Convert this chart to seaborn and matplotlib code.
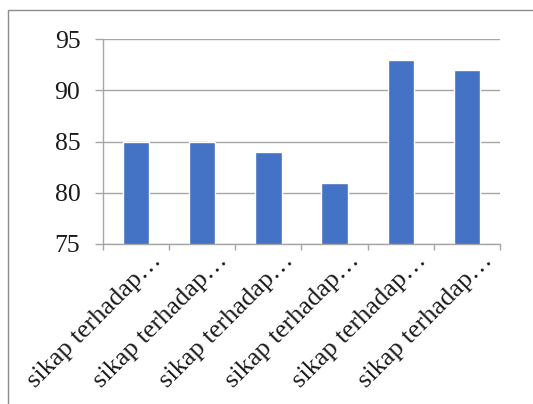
import matplotlib
matplotlib.use("Agg")
import matplotlib.pyplot as plt
import matplotlib.patches as mpatches
import matplotlib.transforms as mtransforms
import seaborn as sns
import pandas as pd

categories = ["sikap terhadap 1", "sikap terhadap 2", "sikap terhadap 3",
              "sikap terhadap 4", "sikap terhadap 5", "sikap terhadap 6"]
tick_labels = ["sikap terhadap\u2026"] * 6
values = [85, 85, 84, 81, 93, 92]
y_ticks = [75, 80, 85, 90, 95]

sns.set_theme(style="white")
plt.rcParams["font.family"] = ["Liberation Serif", "DejaVu Serif"]

df = pd.DataFrame({"category": categories, "value": values})

fig = plt.figure(figsize=(5.33, 4.04), dpi=100)
ax = fig.add_axes([103 / 533, 1 - 244 / 404, 397 / 533, 205 / 404])

sns.barplot(data=df, x="category", y="value", color="#4472C4",
            width=0.4, saturation=1, ax=ax, zorder=3)

grid_c = "#A6A6A6"
text_c = "#1a1a1a"
ax.set_ylim(75, 95)
ax.set_xlim(-0.5, len(categories) - 0.5)
ax.set_yticks(y_ticks)
ax.set_yticklabels([str(v) for v in y_ticks], fontsize=18.5, color=text_c)
ax.yaxis.grid(True, color=grid_c, linewidth=1.0, zorder=0)
ax.set_axisbelow(True)
ax.set_xlabel("")
ax.set_ylabel("")

for s in ["top", "right", "bottom"]:
    ax.spines[s].set_visible(False)
ax.spines["left"].set_color(grid_c)
ax.spines["left"].set_linewidth(1.0)

# tick marks on the category boundaries
ax.set_xticks([i - 0.5 for i in range(len(categories) + 1)], minor=True)
ax.set_xticks(range(len(categories)))
ax.tick_params(axis="x", which="minor", length=4.5, color=grid_c, width=1.0,
               direction="out", bottom=True)
ax.tick_params(axis="x", which="major", length=0)
ax.tick_params(axis="y", length=5.8, color=grid_c, width=1.0, direction="out",
               left=True, pad=10.5)
ax.axhline(75, color=grid_c, linewidth=1.0, zorder=4, clip_on=False)

offset = mtransforms.ScaledTranslation(22 / 100, -8 / 100, fig.dpi_scale_trans)
ax.set_xticklabels(tick_labels, rotation=45, ha="right", va="center",
                   rotation_mode="anchor", fontsize=19, color=text_c)
for lab in ax.get_xticklabels():
    lab.set_transform(lab.get_transform() + offset)

# outer frame of the chart area
frame = mpatches.Rectangle((8 / 533, -0.1), 1.2, 1 - 10 / 404 + 0.1,
                           transform=fig.transFigure, fill=False,
                           edgecolor="#8C8C8C", linewidth=1.0)
fig.patches.append(frame)

fig.savefig("out.png", dpi=100)
